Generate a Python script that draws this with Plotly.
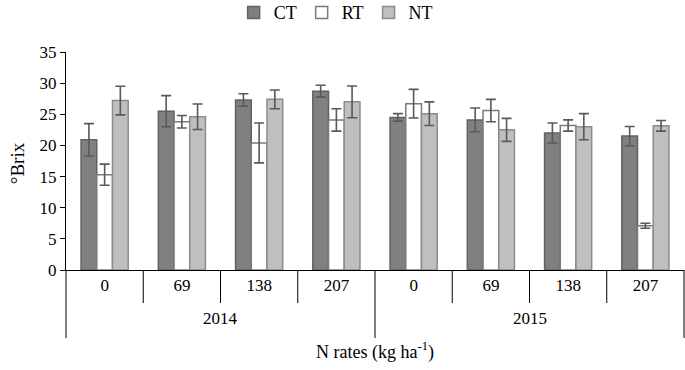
import plotly.graph_objects as go

years = ["2014"] * 4 + ["2015"] * 4
rates = ["0", "69", "138", "207", "0", "69", "138", "207"]
year_labels = ["2014", "2015"]

ct = [20.9, 25.5, 27.3, 28.7, 24.5, 24.1, 22.0, 21.5]
ct_err = [2.6, 2.5, 1.0, 0.95, 0.6, 1.9, 1.6, 1.55]
rt = [15.3, 23.8, 20.4, 24.1, 26.7, 25.6, 23.2, 7.1]
rt_err = [1.7, 1.0, 3.2, 1.8, 2.3, 1.8, 0.9, 0.4]
nt = [27.2, 24.6, 27.4, 27.0, 25.1, 22.5, 23.0, 23.15]
nt_err = [2.3, 2.05, 1.5, 2.55, 1.9, 1.85, 2.1, 0.85]

series = [
    ("CT", ct, ct_err, "#808080", "#626262"),
    ("RT", rt, rt_err, "#ffffff", "#7a7a7a"),
    ("NT", nt, nt_err, "#bfbfbf", "#8c8c8c"),
]

cats = [f"{y}|{r}" for y, r in zip(years, rates)]
font_family = "Liberation Serif"

fig = go.Figure()
for name, vals, errs, fill, line in series:
    fig.add_trace(go.Bar(
        name=name,
        x=cats,
        y=vals,
        marker=dict(color=fill, line=dict(color=line, width=1.5)),
        error_y=dict(type="data", array=errs, visible=True,
                     color="#595959", thickness=1.6, width=5),
    ))

# category boundary ticks (inner level) and dividers (outer level)
n = len(cats)
for i in range(0, n + 1):
    outer = i == 0 or i == n or years[i] != years[i - 1]
    fig.add_shape(type="line", xref="paper", yref="paper", ysizemode="pixel", yanchor=0,
                  x0=i / n, x1=i / n, y0=0, y1=-68 if outer else -33,
                  line=dict(color="black", width=1))

# outer (year) labels centred under their groups
for yl in year_labels:
    idx = [i for i, y in enumerate(years) if y == yl]
    fig.add_annotation(x=(idx[0] + idx[-1]) / 2, y=0, xref="x", yref="y",
                       text=yl, showarrow=False, yshift=-48, yanchor="middle",
                       font=dict(size=17, family=font_family, color="black"))

# y-axis title
fig.add_annotation(x=0, y=0.49, xref="paper", yref="paper", xshift=-49,
                   text="°Brix", textangle=-90, showarrow=False,
                   xanchor="center", yanchor="middle",
                   font=dict(size=19, family=font_family, color="black"))

fig.update_layout(
    width=685, height=370,
    margin=dict(l=66, r=1, t=52, b=100, autoexpand=False),
    paper_bgcolor="white", plot_bgcolor="white",
    barmode="group", bargap=0.39, bargroupgap=0,
    font=dict(family=font_family, size=16, color="black"),
    showlegend=True,
    legend=dict(orientation="h", xref="container", yref="paper",
                x=0.49, xanchor="center", y=1.18, yanchor="middle",
                font=dict(size=18, family=font_family), itemwidth=30,
                traceorder="normal"),
)

fig.update_yaxes(
    range=[0, 35], dtick=5, showgrid=False, zeroline=False,
    showline=True, linecolor="black", linewidth=1,
    ticks="outside", ticklen=5, tickcolor="black", automargin=False,
    tickfont=dict(size=17, family=font_family),
)
fig.update_xaxes(
    type="category", showgrid=False, automargin=False,
    showline=True, linecolor="black", linewidth=1,
    tickvals=cats, ticktext=rates, ticks="", ticklabelstandoff=0,
    tickfont=dict(size=17, family=font_family),
    range=[-0.5, n - 0.5],
    title=dict(text="N rates (kg ha<sup>-1</sup>)", font=dict(size=18, family=font_family), standoff=50),
)

fig.write_html("out.html", config={"displayModeBar": False},
               post_script="document.body.style.margin='0';")
